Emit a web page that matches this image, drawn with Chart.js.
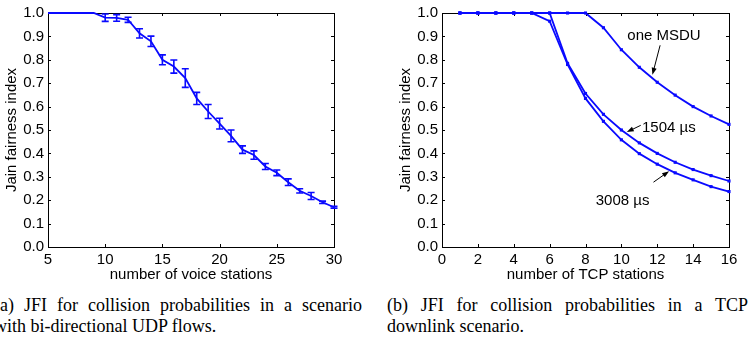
<!DOCTYPE html>
<html>
<head>
<meta charset="utf-8">
<script src="https://cdn.jsdelivr.net/npm/chart.js@4.4.0/dist/chart.umd.min.js"></script>
<style>
  html, body { margin: 0; padding: 0; background: #fff; }
  body { width: 748px; height: 339px; position: relative; overflow: hidden; }
  canvas { position: absolute; top: 0; }
  .cap { position: absolute; font-family: "Liberation Serif", "Times New Roman", serif; font-size: 18px; line-height: 21px; color: #000; }
  .cap .first { text-align: justify; text-align-last: justify; }
  .cap .second { white-space: nowrap; }
</style>
</head>
<body>
<canvas id="udp" width="374" height="290" style="left:0"></canvas>
<canvas id="tcp" width="354" height="290" style="left:394px"></canvas>
<div class="cap" style="left:-6px;top:295px;width:368px">
  <div class="first">(a) JFI for collision probabilities in a scenario</div>
  <div class="second">with bi-directional UDP flows.</div>
</div>
<div class="cap" style="left:387px;top:295px;width:361px">
  <div class="first">(b) JFI for collision probabilities in a TCP</div>
  <div class="second">downlink scenario.</div>
</div>
<script>
// (a) UDP scenario
const voiceStations = [5, 6, 7, 8, 9, 10, 11, 12, 13, 14, 15, 16, 17, 18, 19, 20, 21, 22, 23, 24, 25, 26, 27, 28, 29, 30];
const jfiUdp = [1, 1, 1, 1, 1, 0.98, 0.979, 0.971, 0.913, 0.879, 0.80, 0.771, 0.722, 0.635, 0.579, 0.527, 0.475, 0.416, 0.393, 0.344, 0.317, 0.277, 0.24, 0.218, 0.191, 0.17];
const errUdp = [0, 0, 0, 0, 0, 0.016, 0.014, 0.011, 0.02, 0.022, 0.021, 0.028, 0.04, 0.026, 0.03, 0.023, 0.025, 0.016, 0.018, 0.013, 0.012, 0.014, 0.009, 0.015, 0.005, 0.004];
const udpXTicks = [5, 10, 15, 20, 25, 30];

// (b) TCP downlink scenario
const tcpStations = [1, 2, 3, 4, 5, 6, 7, 8, 9, 10, 11, 12, 13, 14, 15, 16];
const jfiOneMsdu = [1, 1, 1, 1, 1, 1, 1, 1, 0.937, 0.843, 0.768, 0.704, 0.649, 0.60, 0.56, 0.524];
const jfi1504 = [1, 1, 1, 1, 1, 1, 0.785, 0.656, 0.567, 0.50, 0.445, 0.40, 0.362, 0.331, 0.305, 0.282];
const jfi3008 = [1, 1, 1, 1, 1, 0.965, 0.78, 0.635, 0.537, 0.458, 0.399, 0.354, 0.317, 0.287, 0.258, 0.237];
const tcpXTicks = [0, 2, 4, 6, 8, 10, 12, 14, 16];

const yTicks = [0, 0.1, 0.2, 0.3, 0.4, 0.5, 0.6, 0.7, 0.8, 0.9, 1.0];

// labels with arrows, in data units
const tcpNotes = [
    { text: 'one MSDU', at: [10.33, 0.902], from: [12.16, 0.862], to: [11.73, 0.736] },
    { text: '1504 \u00b5s', at: [11.15, 0.508], from: [11.08, 0.52], to: [10.3, 0.491] },
    { text: '3008 \u00b5s', at: [8.57, 0.199], from: [11.79, 0.277], to: [12.66, 0.324] },
];

const BLUE = 'rgb(10,10,255)';
const FONT = { family: 'Liberation Sans, Arial, sans-serif', size: 15 };

const points = (xs, ys) => xs.map((x, i) => ({ x: x, y: ys[i] }));

// box with inward ticks on all four sides
const framePlugin = {
    id: 'frame',
    beforeDatasetsDraw(chart) {
        const { ctx, chartArea: a, scales: { x, y } } = chart;
        ctx.save();
        ctx.strokeStyle = '#000';
        ctx.lineWidth = 1;
        ctx.strokeRect(Math.round(a.left) + 0.5, Math.round(a.top) + 0.5,
            Math.round(a.right - a.left), Math.round(a.bottom - a.top));
        ctx.beginPath();
        x.ticks.forEach(t => {
            const px = Math.round(x.getPixelForValue(t.value)) + 0.5;
            ctx.moveTo(px, a.bottom); ctx.lineTo(px, a.bottom - 3);
            ctx.moveTo(px, a.top); ctx.lineTo(px, a.top + 3);
        });
        y.ticks.forEach(t => {
            const py = Math.round(y.getPixelForValue(t.value)) + 0.5;
            ctx.moveTo(a.left, py); ctx.lineTo(a.left + 3, py);
            ctx.moveTo(a.right, py); ctx.lineTo(a.right - 3, py);
        });
        ctx.stroke();
        ctx.restore();
    }
};

const errorBarPlugin = {
    id: 'errorBars',
    afterDatasetsDraw(chart) {
        const { ctx, scales: { x, y } } = chart;
        ctx.save();
        chart.data.datasets.forEach(ds => {
            if (!ds.errors) return;
            ctx.strokeStyle = ds.borderColor;
            ctx.lineWidth = 1.6;
            ds.data.forEach((p, i) => {
                const e = ds.errors[i];
                if (!e) return;
                const px = x.getPixelForValue(p.x);
                const top = y.getPixelForValue(p.y + e);
                const bot = y.getPixelForValue(p.y - e);
                ctx.beginPath();
                ctx.moveTo(px, top); ctx.lineTo(px, bot);
                ctx.moveTo(px - 3.5, top); ctx.lineTo(px + 3.5, top);
                ctx.moveTo(px - 3.5, bot); ctx.lineTo(px + 3.5, bot);
                ctx.stroke();
            });
        });
        ctx.restore();
    }
};

const notesPlugin = {
    id: 'notes',
    afterDraw(chart) {
        const notes = chart.options.plugins.notes.items || [];
        const { ctx, scales: { x, y } } = chart;
        ctx.save();
        ctx.fillStyle = '#000';
        ctx.strokeStyle = '#000';
        ctx.lineWidth = 1;
        ctx.font = '15px ' + FONT.family;
        ctx.textAlign = 'left';
        ctx.textBaseline = 'middle';
        notes.forEach(n => {
            ctx.fillText(n.text, x.getPixelForValue(n.at[0]), y.getPixelForValue(n.at[1]));
            const x1 = x.getPixelForValue(n.from[0]), y1 = y.getPixelForValue(n.from[1]);
            const x2 = x.getPixelForValue(n.to[0]), y2 = y.getPixelForValue(n.to[1]);
            const ang = Math.atan2(y2 - y1, x2 - x1);
            ctx.beginPath();
            ctx.moveTo(x1, y1); ctx.lineTo(x2 - 5 * Math.cos(ang), y2 - 5 * Math.sin(ang));
            ctx.stroke();
            ctx.beginPath();
            ctx.moveTo(x2, y2);
            ctx.lineTo(x2 - 7 * Math.cos(ang) + 2.5 * Math.sin(ang), y2 - 7 * Math.sin(ang) - 2.5 * Math.cos(ang));
            ctx.lineTo(x2 - 7 * Math.cos(ang) - 2.5 * Math.sin(ang), y2 - 7 * Math.sin(ang) + 2.5 * Math.cos(ang));
            ctx.closePath();
            ctx.fill();
        });
        ctx.restore();
    }
};

function makeOptions(xMin, xMax, xTicks, xTitle, rightPad, notes) {
    return {
        responsive: false,
        animation: false,
        layout: { padding: { left: 0, top: 10, right: rightPad, bottom: 0 } },
        plugins: {
            legend: { display: false },
            tooltip: { enabled: false },
            notes: { items: notes },
        },
        scales: {
            x: {
                type: 'linear',
                min: xMin,
                max: xMax,
                grid: { display: false, drawTicks: false },
                border: { display: false },
                afterBuildTicks: s => { s.ticks = xTicks.map(v => ({ value: v })); },
                afterFit: s => { s.height = 43; },
                ticks: { color: '#000', font: FONT, padding: 4, maxRotation: 0 },
                title: { display: true, text: xTitle, color: '#000', font: FONT, padding: { top: 0, bottom: 6 } },
            },
            y: {
                type: 'linear',
                min: 0,
                max: 1,
                grid: { display: false, drawTicks: false },
                border: { display: false },
                afterBuildTicks: s => { s.ticks = yTicks.map(v => ({ value: v })); },
                afterFit: s => { s.width = 48; },
                ticks: { color: '#000', font: FONT, padding: 4, callback: v => v.toFixed(1) },
                title: { display: true, text: 'Jain fairness index', color: '#000', font: FONT, padding: { top: 3, bottom: 0 } },
            },
        },
    };
}

function line(data, withMarkers) {
    return {
        data: data,
        borderColor: BLUE,
        backgroundColor: BLUE,
        borderWidth: 1.8,
        tension: 0,
        clip: false,
        pointStyle: 'rect',
        pointRadius: withMarkers ? 2.2 : 0,
        pointBorderWidth: 0,
    };
}

const udpSet = line(points(voiceStations, jfiUdp), false);
udpSet.errors = errUdp;

new Chart(document.getElementById('udp').getContext('2d'), {
    type: 'line',
    data: { datasets: [udpSet] },
    options: makeOptions(5, 30, udpXTicks, 'number of voice stations', 40, []),
    plugins: [framePlugin, errorBarPlugin],
});

new Chart(document.getElementById('tcp').getContext('2d'), {
    type: 'line',
    data: {
        datasets: [
            line(points(tcpStations, jfiOneMsdu), true),
            line(points(tcpStations, jfi1504), true),
            line(points(tcpStations, jfi3008), true),
        ]
    },
    options: makeOptions(0, 16, tcpXTicks, 'number of TCP stations', 19, tcpNotes),
    plugins: [framePlugin, notesPlugin],
});
</script>
</body>
</html>
